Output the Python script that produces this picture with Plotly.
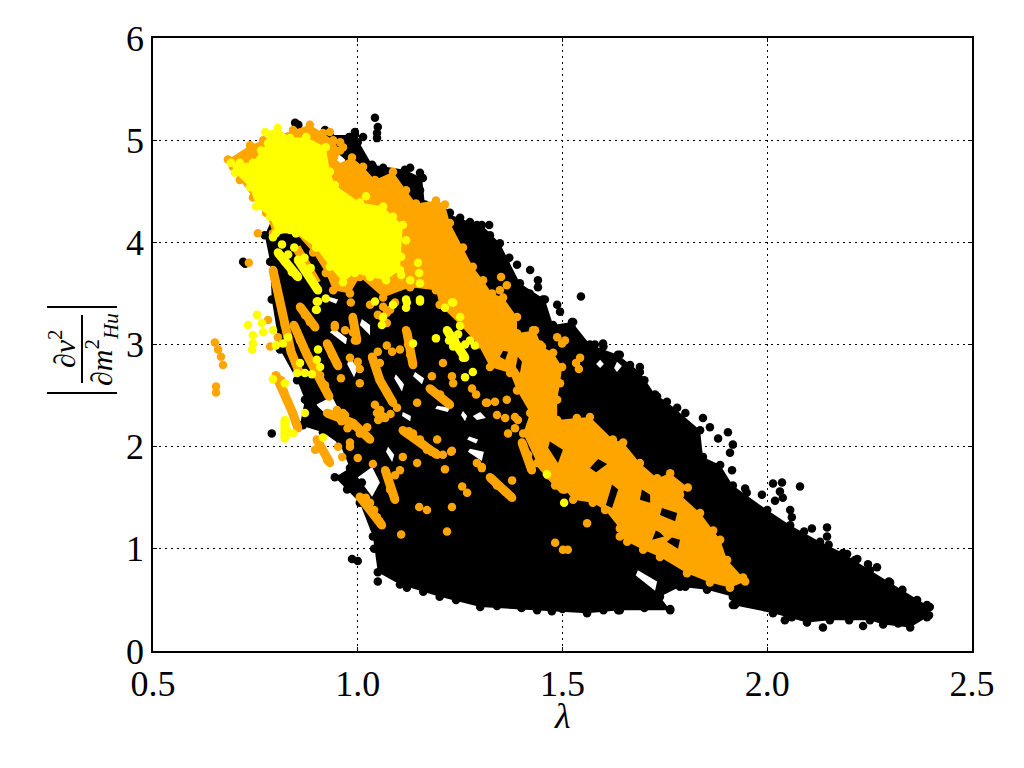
import plotly.graph_objects as go

black_outline = [(.859,4.81),(.932,5.05),(.993,5.05),(1.035,4.76),(1.115,4.71),(1.157,4.63),(1.164,4.37),(1.213,4.29),(1.274,4.20),(1.303,4.17),(1.347,3.99),(1.396,3.60),(1.457,3.44),(1.477,3.19),(1.523,3.22),(1.567,3.00),(1.635,2.90),(1.689,2.73),(1.726,2.51),(1.755,2.44),(1.836,2.16),(1.843,1.90),(1.885,1.82),(1.916,1.62),(2.0,1.38),(2.056,1.23),(2.129,1.07),(2.185,.96),(2.251,.79),(2.30,.67),(2.366,.50),(2.397,.43),(2.39,.33),(2.349,.23),(2.283,.26),(2.251,.30),(2.153,.30),(2.097,.28),(2.014,.37),(1.916,.45),(1.916,.53),(1.853,.60),(1.787,.63),(1.738,.53),(1.763,.40),(1.64,.40),(1.56,.37),(1.438,.40),(1.299,.43),(1.20,.53),(1.103,.65),(1.049,.77),(1.037,1.12),(1.005,1.45),(.974,1.58),(.944,1.70),(.981,1.79),(.957,2.02),(.915,2.14),(.859,2.21),(.871,2.46),(.852,2.65),(.81,2.95),(.79,3.44),(.786,3.81),(.773,4.07),(.822,4.51)]
black_gaps = [
 [(.942,3.16),(.932,3.12),(.971,3.0),(.974,3.06)],[(1.01,3.25),(1.005,3.19),(1.03,3.09),(1.03,3.19)],
 [(.981,2.87),(.974,2.81),(.991,2.68),(1.0,2.77)],[(1.093,2.71),(1.089,2.67),(1.108,2.54),(1.113,2.61)],
 [(1.14,2.73),(1.135,2.69),(1.157,2.61),(1.162,2.67)],[(1.074,2.0),(1.069,1.95),(1.084,1.85),(1.089,1.92)],
 [(1.274,1.98),(1.269,1.95),(1.303,1.86),(1.308,1.95)],[(1.272,2.10),(1.267,2.07),(1.289,2.03),(1.294,2.07)],
 [(1.035,1.80),(1.0,1.70),(1.035,1.51),(1.054,1.65)],[(.937,2.49),(.898,2.41),(.927,2.30),(.957,2.34)],
 [(.937,4.92),(.932,4.87),(.964,4.66),(.969,4.81)],[(.927,3.47),(.922,3.44),(.947,3.40),(.952,3.44)],
 [(1.592,2.85),(1.582,2.81),(1.592,2.77),(1.601,2.81)],[(1.633,2.83),(1.626,2.77),(1.633,2.73),(1.645,2.79)],
 [(1.684,.79),(1.679,.74),(1.726,.59),(1.731,.68)],[(1.257,2.35),(1.252,2.31),(1.262,2.25),(1.267,2.30)],
 [(1.299,2.34),(1.281,2.30),(1.291,2.26),(1.313,2.28)],[(1.11,2.34),(1.108,2.30),(1.128,2.25),(1.13,2.30)],
 [(1.194,2.40),(1.189,2.37),(1.22,2.34),(1.225,2.38)],
]
black_points = [(.72,3.81),(.725,3.79),(.847,5.17),(.855,5.15),(.92,5.10),(.979,5.03),(.993,5.08),(1.013,5.03),(1.0,4.98),(1.042,5.22),(1.049,5.13),(1.047,5.07),(1.047,5.02),(1.037,4.74),(1.062,4.73),(1.128,4.73),(1.152,4.68),(1.159,4.63),(1.152,4.51),(1.142,4.43),(1.225,4.29),(1.291,4.17),(1.321,4.17),(1.323,4.07),(1.342,3.93),(1.36,3.80),(1.389,3.78),(1.421,3.73),(1.44,3.63),(1.44,3.56),(1.452,3.44),(1.487,3.39),(1.494,3.32),(1.526,3.22),(1.523,3.16),(1.545,3.47),(1.579,3.0),(1.599,3.01),(1.64,2.90),(1.665,2.80),(1.689,2.78),(1.70,2.65),(1.66,2.62),(1.731,2.49),(1.78,2.38),(1.843,2.28),(1.86,2.19),(1.904,2.14),(1.88,2.08),(1.916,2.02),(1.909,1.94),(2.08,1.61),(2.036,1.65),(2.014,1.64),(2.031,1.56),(2.038,1.50),(2.019,1.47),(1.987,1.53),(2.056,1.38),(2.06,1.31),(2.146,1.21),(2.146,1.12),(2.109,1.20),(2.195,.95),(2.214,.89),(2.246,.85),(2.268,.82),(2.234,.245),(2.297,.68),(2.39,.45),(2.395,.35),(2.136,.23),(2.043,.30),(1.921,.45),(1.946,1.59),(1.914,1.77),(1.636,.40),(1.763,.41),(1.56,.40),(1.474,.39),(.986,.90),(1.0,.88),(1.049,.68),(.79,2.13),(1.01,1.65),(1.084,1.35),(.891,2.39),(.903,2.48),(.866,2.21),(.915,2.19),
 (1.12,.62),(1.16,.58),(1.24,.50),(1.34,.44),(1.40,.42),(1.50,.41),(1.60,.40),(1.70,.42),(1.80,.63),(1.95,.47),(2.06,.33),(2.20,.30),(2.32,.27),(2.35,.42),(1.25,4.24),(1.37,3.85),(1.42,3.50),(1.60,2.98),(1.80,2.33),(1.95,1.55),(2.09,1.17),(2.15,1.04),(2.22,.90),(2.33,.60),(1.07,.90),(1.04,1.00)]

orange_outline = [(.683,4.81),(.737,4.95),(.769,5.0),(.842,5.10),(.883,5.15),(.915,5.07),(.94,5.0),(.957,4.90),(.947,4.76),(.986,4.83),(1.013,4.74),(1.042,4.61),(1.086,4.69),(1.118,4.51),(1.142,4.38),(1.191,4.41),(1.213,4.37),(1.225,4.19),(1.257,3.95),(1.281,3.76),(1.306,3.63),(1.328,3.50),(1.355,3.46),(1.389,3.27),(1.389,3.11),(1.433,3.14),(1.45,2.98),(1.477,2.92),(1.499,2.78),(1.494,2.62),(1.487,2.46),(1.487,2.26),(1.535,2.28),(1.567,2.29),(1.623,2.07),(1.648,2.04),(1.689,1.84),(1.731,1.69),(1.763,1.74),(1.806,1.60),(1.787,1.53),(1.836,1.35),(1.868,1.18),(1.885,1.09),(1.902,.89),(1.941,.72),(1.946,.68),(1.909,.62),(1.860,.67),(1.804,.76),(1.738,.92),(1.697,.99),(1.658,1.07),(1.64,1.12),(1.64,1.20),(1.604,1.38),(1.574,1.45),(1.526,1.48),(1.506,1.58),(1.474,1.74),(1.438,1.84),(1.404,2.13),(1.421,2.33),(1.389,2.55),(1.372,2.72),(1.323,2.78),(1.294,3.0),(1.25,3.19),(1.20,3.39),(1.191,3.53),(1.128,3.56),(1.062,3.46),(1.005,3.66),(.981,3.50),(.94,3.53),(.922,3.70),(.891,3.90),(.849,4.09),(.793,4.09),(.776,4.29),(.744,4.44),(.712,4.61),(.695,4.74)]
orange_gaps = [
 [(1.587,1.88),(1.567,1.79),(1.582,1.75),(1.609,1.83)],[(1.621,1.63),(1.606,1.43),(1.621,1.40),(1.636,1.58)],
 [(1.694,1.58),(1.689,1.48),(1.714,1.45),(1.714,1.53)],[(1.728,1.18),(1.719,1.09),(1.748,1.12),(1.738,1.16)],
 [(1.767,1.11),(1.755,1.07),(1.782,1.0),(1.787,1.09)],[(1.743,1.40),(1.738,1.33),(1.775,1.27),(1.78,1.35)],
 [(1.469,2.05),(1.465,1.99),(1.489,1.84),(1.501,1.97)],[(1.355,2.94),(1.347,2.88),(1.36,2.85),(1.367,2.93)],
 [(1.391,2.88),(1.386,2.78),(1.396,2.72),(1.401,2.83)],
]
orange_points = [(.651,3.02),(.659,2.95),(.666,2.88),(.671,2.80),(.654,2.59),(.654,2.53),(.756,4.09),(.734,3.80),
 (.793,3.73),(.80,3.58),(.808,3.46),(.815,3.34),(.822,3.19),(.83,3.04),(.837,2.93),(.847,2.83),(.857,2.73),(.813,2.65),(.82,2.54),(.83,2.44),(.84,2.34),(.849,2.24),(.854,2.18),(.80,2.70),
 (.859,3.37),(.871,3.29),(.883,3.22),(.896,3.17),(.844,3.19),(.859,3.04),(.876,2.90),(.891,2.83),(.908,2.70),(.92,2.60),(.93,2.49),(.925,3.01),(.937,2.90),(.952,2.79),(.969,3.14),(.988,3.26),(.988,3.12),(.998,3.04),(.944,3.19),
 (1.035,2.88),(1.054,2.82),(1.054,2.65),(1.071,2.53),(1.086,2.43),(1.12,3.12),(1.123,3.0),(1.128,2.90),(1.135,2.80),(1.059,3.27),(1.071,3.31),(1.176,2.57),(1.201,2.51),(1.225,2.41),
 (.949,2.36),(.969,2.31),(.986,2.21),(1.005,2.13),(.925,2.33),(.964,2.33),(.988,2.23),(1.023,2.19),(1.03,2.07),(.981,2.04),(1.047,2.33),(1.067,2.28),(1.042,2.41),(1.096,2.38),(1.145,2.43),
 (.90,2.07),(.896,1.97),(.925,1.87),(.932,1.84),(.952,2.0),(.981,2.0),(.962,1.90),(1.0,1.89),(1.037,1.83),(1.067,1.77),(1.091,1.72),(1.103,1.77),(1.079,1.58),(1.091,1.48),
 (1.005,1.51),(1.03,1.45),(1.047,1.31),(1.059,1.23),(1.15,1.41),(1.169,1.38),(1.23,1.41),(1.218,1.17),(1.106,1.14),(1.255,1.61),(1.267,1.55),(1.291,1.84),(1.303,1.79),
 (1.11,2.16),(1.135,2.13),(1.152,2.07),(1.169,1.97),(1.194,1.92),(1.194,2.07),(1.189,1.94),(1.208,1.92),(1.23,1.96),(1.11,1.90),(1.145,1.84),(1.213,1.78),
 (1.005,2.62),(.981,2.87),(1.0,2.83),(1.005,2.76),(.959,2.67),(1.208,2.82),(1.181,2.69),(1.233,2.62),(1.23,2.69),(1.279,2.57),(1.289,2.51),(1.313,2.43),(1.103,2.95),(1.084,2.93),(1.049,2.93),(1.071,2.99),
 (1.35,3.66),(1.364,3.58),(1.347,3.53),(1.487,3.07),(1.499,3.01),(1.506,3.04),(1.543,2.87),(1.533,2.82),(1.54,2.76),(1.316,2.43),(1.335,2.44),(1.364,2.46),(1.34,2.31),(1.36,2.28),(1.384,2.29),(1.391,2.26),(1.384,2.18),(1.367,2.13),(1.228,1.95),(1.428,3.14),(1.445,3.0),
 (1.377,1.67),(1.323,1.70),(1.34,1.62),(1.36,1.56),(1.377,1.50),(1.56,1.25),(1.482,1.06),(1.501,.99),(1.513,.99),(1.303,1.80),(1.401,2.04),(1.416,1.92),(1.425,1.77),(1.445,1.84),(1.465,1.72),(1.482,1.62),(1.501,1.58),
 (.932,5.08),(.957,4.98),(.964,4.93),(.781,3.24),(.786,2.98),(.805,3.07),(.983,3.41),(1.062,3.37),(1.071,3.21),(1.091,3.41),(1.118,3.14),(1.128,3.01),(.988,3.27),(.993,3.04),(.944,3.17),(1.03,3.39),(1.049,3.29),(1.079,3.34),
 (1.02,1.50),(1.04,1.38),(1.053,1.27),(1.125,2.15),(1.16,2.02),(1.18,1.95),(.96,2.25),(.975,2.18),(1.055,2.36),(1.05,2.26),(1.08,2.32)]
orange_strands = [
 [(.793,3.73),(.808,3.46),(.822,3.19),(.837,2.93),(.857,2.73)],[(.80,2.70),(.82,2.54),(.84,2.34),(.854,2.18)],
 [(.859,3.37),(.896,3.17)],[(.844,3.19),(.876,2.90),(.93,2.49)],[(.925,3.01),(.952,2.79)],[(.988,3.26),(.998,3.04)],
 [(1.035,2.88),(1.054,2.65),(1.086,2.43)],[(1.12,3.12),(1.135,2.80)],[(1.176,2.57),(1.225,2.41)],
 [(.925,2.33),(.988,2.23),(1.03,2.07)],[(1.005,1.51),(1.059,1.23)],[(1.11,2.16),(1.194,1.92)],
 [(1.323,1.70),(1.377,1.50)],[(1.401,2.04),(1.425,1.77)],[(1.445,1.84),(1.501,1.58)],[(.85,3.95),(.90,3.60)],
 [(.90,2.07),(.932,1.84)],[(1.067,1.77),(1.091,1.48)],[(1.047,2.33),(1.067,2.28)],
]

yellow_outline = [(.69,4.78),(.712,4.78),(.744,4.78),(.764,4.90),(.781,4.97),(.774,5.08),(.805,5.12),(.835,5.02),(.874,5.03),(.922,4.93),(.932,4.69),(.944,4.56),(1.005,4.39),(1.062,4.35),(1.086,4.25),(1.11,4.17),(1.106,3.86),(1.103,3.73),(1.069,3.63),(1.03,3.66),(.993,3.70),(.964,3.61),(.932,3.76),(.898,3.95),(.849,4.09),(.80,4.09),(.786,4.25),(.752,4.35),(.737,4.54),(.70,4.68)]
yellow_points = [(.805,3.90),(.822,3.81),(.839,3.71),(.854,3.66),(.854,3.83),(.871,3.73),(.888,3.63),(.903,3.53),(.903,3.42),(.922,3.45),(.898,3.34),(.793,4.05),(.81,4.12),(.835,4.12),
 (1.02,4.45),(1.118,4.02),(1.147,3.80),(1.15,3.70),(1.152,3.60),(1.128,3.63),(1.106,3.68),(1.118,3.44),(1.152,3.44),(1.118,3.36),(1.213,3.36),(1.233,3.41),(1.191,3.06),(1.223,3.04),(1.233,2.98),
 (1.218,3.14),(1.237,3.04),(1.25,2.95),(1.262,2.87),(1.262,2.68),(1.281,2.73),(1.23,3.41),(1.25,3.27),(1.25,3.18),(1.135,3.01),(1.062,3.27),(1.059,3.19),(1.12,3.41),(1.152,3.42),(1.042,3.42),(1.086,3.39),
 (1.462,1.73),(1.504,1.45),(.732,3.19),(.754,3.29),(.766,3.21),(.769,3.12),(.793,3.14),(.744,3.09),(.744,3.01),(.742,2.95),(.80,2.99),(.817,3.01),(.83,3.07),(.793,2.66),(.822,2.62),
 (.903,2.95),(.90,2.85),(.908,2.78),(.859,2.82),(.852,2.72),(.871,2.72),(.888,2.71),(.871,2.33),(.822,2.26),(.827,2.16),(.822,2.08),(.842,2.13),(.915,2.09),(.90,3.42),(.90,3.34),
 (1.225,3.09),(1.237,2.99),(1.274,3.04),(1.286,2.99),(1.257,2.87),(1.245,3.10),(1.262,3.0),(.815,3.98),(.83,3.88),(.845,3.95),(.87,3.85),(.885,3.75)]
yellow_strands = [[(.805,3.90),(.854,3.66)],[(.854,3.83),(.903,3.53)],[(1.218,3.14),(1.262,2.87)],[(.822,2.26),(.822,2.08)]]

x_ticks = [0.5, 1.0, 1.5, 2.0, 2.5]
x_tick_labels = ["0.5", "1.0", "1.5", "2.0", "2.5"]
y_ticks = [0, 1, 2, 3, 4, 5, 6]

BLACK, ORANGE, YELLOW = "#000000", "#FFA500", "#FFFF00"
FONT = "Liberation Serif"


def join(parts):
    xs, ys = [], []
    for part in parts:
        if xs:
            xs.append(None)
            ys.append(None)
        xs += [p[0] for p in part]
        ys += [p[1] for p in part]
    return xs, ys


def region(outline, gaps, colour):
    xs, ys = join([outline] + gaps)
    return go.Scatter(x=xs, y=ys, mode="lines", line=dict(width=0, color=colour),
                      fill="toself", fillcolor=colour, hoverinfo="skip", showlegend=False)


def strands(parts, colour):
    xs, ys = join(parts)
    return go.Scatter(x=xs, y=ys, mode="lines", line=dict(width=9, color=colour),
                      hoverinfo="skip", showlegend=False)


def dots(points, colour):
    return go.Scatter(x=[p[0] for p in points], y=[p[1] for p in points], mode="markers",
                      marker=dict(size=8.5, color=colour, line=dict(width=0)), showlegend=False)


fig = go.Figure()
for outline, gaps, points, threads, colour in [
    (black_outline, black_gaps, black_points, [], BLACK),
    (orange_outline, orange_gaps, orange_points, orange_strands, ORANGE),
    (yellow_outline, [], yellow_points, yellow_strands, YELLOW),
]:
    fig.add_trace(region(outline, gaps, colour))
    if threads:
        fig.add_trace(strands(threads, colour))
    fig.add_trace(dots(outline, colour))
    fig.add_trace(dots(points, colour))

axis = dict(showline=True, linecolor="black", linewidth=1.5, mirror="allticks", ticks="inside", ticklen=4,
            tickcolor="black", tickwidth=1, showgrid=True, gridcolor="black", gridwidth=1, griddash="2px,4px",
            zeroline=False, tickfont=dict(family=FONT, size=36, color="black"))
fig.update_xaxes(range=[0.5, 2.5], tickvals=x_ticks, ticktext=x_tick_labels, **axis)
fig.update_yaxes(range=[0, 6], tickvals=y_ticks, **axis)

bar = dict(type="line", xref="paper", yref="paper", line=dict(color="black", width=2))
fig.update_layout(
    width=1024, height=768, autosize=False, plot_bgcolor="white", paper_bgcolor="white",
    margin=dict(l=145, r=60, t=30, b=125, pad=0), font=dict(family=FONT, color="black"),
    shapes=[
        dict(x0=-0.1294, x1=-0.044, y0=0.5612, y1=0.5612, **bar),
        dict(x0=-0.1294, x1=-0.044, y0=0.4209, y1=0.4209, **bar),
        dict(x0=-0.0867, x1=-0.0867, y0=0.4372, y1=0.5481, **bar),
    ],
    annotations=[
        dict(text="<i>λ</i>", xref="paper", yref="paper", x=0.5, y=-0.106, xanchor="center", yanchor="middle",
             showarrow=False, font=dict(family=FONT, size=36)),
        dict(text="<i>∂v</i><sup>2</sup>", xref="paper", yref="paper", x=-0.111, y=0.4927, textangle=-90,
             xanchor="center", yanchor="middle", showarrow=False, font=dict(family=FONT, size=30)),
        dict(text="<i>∂m</i><sup>2</sup><sub><i>Hu</i></sub>", xref="paper", yref="paper", x=-0.0623, y=0.4927,
             textangle=-90, xanchor="center", yanchor="middle", showarrow=False, font=dict(family=FONT, size=30)),
    ],
)
fig.write_html("out.html")
